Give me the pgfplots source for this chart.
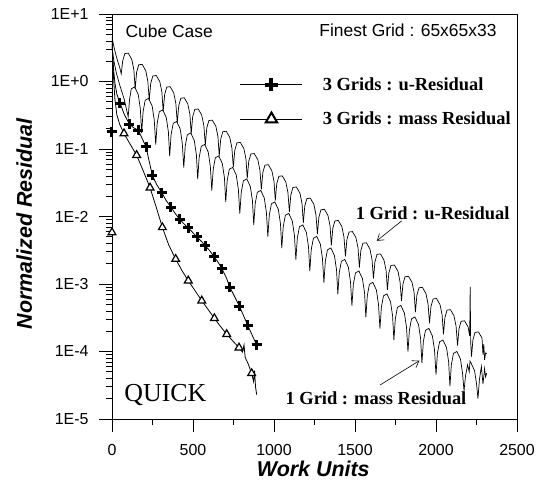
\documentclass[border=0pt]{standalone}
\usepackage{fontspec}
\setmainfont{Liberation Serif}
\setsansfont{Liberation Sans}
\usepackage{pgfplots}
\pgfplotsset{compat=1.18}
\usetikzlibrary{arrows.meta}
\pgfplotsset{
  crossleg/.style={legend image code/.code={
    \draw[black, line width=0.6bp] (0bp,0bp) -- (62bp,0bp);
    \draw[black, mark=+, mark size=6.5bp, mark options={black, line width=4bp}] plot coordinates {(31bp,0bp)};}},
  triley/.style={legend image code/.code={
    \draw[black, line width=0.6bp] (0bp,0bp) -- (62bp,0bp);
    \draw[black, mark=triangle*, mark size=6.5bp, mark options={draw=black, fill=white, line width=2bp}] plot coordinates {(31bp,0bp)};}},
}
\begin{document}
\begin{tikzpicture}
\useasboundingbox (-112bp,-64bp) rectangle (426bp,419bp);
\begin{axis}[
  at={(0,0)}, anchor=south west,
  scale only axis, width=405bp, height=405bp,
  xmin=0, xmax=2500, ymin=1e-5, ymax=10,
  ymode=log,
  xtick={0,500,1000,1500,2000,2500},
  xticklabels={0,500,1000,1500,2000,2500},
  minor xtick={250,750,1250,1750,2250},
  ytick={1e-5,1e-4,1e-3,1e-2,1e-1,1,10},
  yticklabels={1E-5,1E-4,1E-3,1E-2,1E-1,1E+0,1E+1},
  minor ytick={2e-5,3e-5,4e-5,5e-5,6e-5,7e-5,8e-5,9e-5,
    2e-4,3e-4,4e-4,5e-4,6e-4,7e-4,8e-4,9e-4,
    2e-3,3e-3,4e-3,5e-3,6e-3,7e-3,8e-3,9e-3,
    2e-2,3e-2,4e-2,5e-2,6e-2,7e-2,8e-2,9e-2,
    0.2,0.3,0.4,0.5,0.6,0.7,0.8,0.9,
    2,3,4,5,6,7,8,9},
  tick align=outside,
  xtick pos=bottom, ytick pos=left,
  major tick length=13bp, minor tick length=6bp,
  tick style={black, line width=0.7bp},
  axis line style={line width=0.9bp},
  ticklabel style={font=\sffamily\fontsize{16}{16}\selectfont},
  xticklabel style={anchor=north, yshift=-9bp},
  yticklabel style={anchor=east, xshift=-7bp},
  xlabel={Work Units}, ylabel={Normalized Residual},
  label style={font=\sffamily\bfseries\itshape\fontsize{21.5}{21.5}\selectfont},
  xlabel style={at={(axis description cs:0.497,-0.124)}, anchor=center},
  ylabel style={at={(axis description cs:-0.217,0.482)}, anchor=center},
  legend style={at={(axis description cs:0.316,0.783)}, anchor=west,
    draw=none, fill=none, inner sep=0pt, row sep=20bp, column sep=20bp,
    font=\bfseries\fontsize{18.5}{18.5}\selectfont,
    nodes={inner sep=0pt, anchor=west}},
  legend cell align=left,
]
% 1 Grid : u-Residual
\addplot[black, line width=0.7bp, forget plot] table {
x y
0 4.6
8 3.6
20 2.7
35 2.0
48 1.6
57 1.3
66 2.01
79 2.59
100 2.63
122 2.13
135 1.49
143 0.772
152 1.372
165 1.768
186 1.797
208 1.457
221 1.017
230 0.528
239 0.938
252 1.208
273 1.228
295 0.996
308 0.695
316 0.361
325 0.641
338 0.826
359 0.839
381 0.681
394 0.475
403 0.246
412 0.438
425 0.565
446 0.574
468 0.465
481 0.325
489 0.169
498 0.300
511 0.386
532 0.392
554 0.318
567 0.222
576 0.115
585 0.205
598 0.264
619 0.268
641 0.218
654 0.152
662 0.0787
671 0.1400
684 0.1804
705 0.1834
727 0.1487
740 0.1038
749 0.0538
758 0.0957
771 0.1233
792 0.1253
814 0.1016
827 0.0710
835 0.0368
844 0.0654
857 0.0843
878 0.0857
900 0.0695
913 0.0485
922 0.0252
931 0.0447
944 0.0576
965 0.0586
987 0.0475
1000 0.0332
1008 0.0172
1017 0.0306
1030 0.0394
1051 0.0400
1073 0.0325
1086 0.0227
1095 0.01175
1104 0.0209
1117 0.0269
1138 0.0274
1160 0.0222
1173 0.0155
1181 0.00804
1190 0.01429
1203 0.0184
1224 0.0187
1246 0.01517
1259 0.01059
1268 0.00549
1277 0.00977
1290 0.01258
1311 0.01279
1333 0.01037
1346 0.00724
1354 0.00375
1363 0.00668
1376 0.00860
1397 0.00874
1419 0.00709
1432 0.00495
1441 0.00257
1450 0.00456
1463 0.00588
1484 0.00598
1506 0.00485
1519 0.00338
1527 0.00175
1536 0.00312
1549 0.00402
1570 0.00408
1592 0.00331
1605 0.00231
1614 0.00120
1623 0.00213
1636 0.00275
1657 0.00279
1679 0.00226
1692 0.00158
1700 0.000820
1709 0.00146
1722 0.00188
1743 0.00191
1765 0.00155
1778 0.00108
1787 0.000561
1796 0.000997
1809 0.00128
1830 0.00130
1852 0.00106
1865 0.000739
1873 0.000383
1882 0.000681
1895 0.000878
1916 0.000892
1938 0.000723
1951 0.000505
1960 0.000262
1969 0.000466
1982 0.000600
2003 0.000610
2025 0.000494
2038 0.000345
2046 0.000179
2055 0.000318
2068 0.000410
2089 0.000417
2111 0.000338
2124 0.000236
2133 0.000122
2142 0.000218
2155 0.000280
2176 0.000285
2198 0.000231
2208 0.000170
2211 0.00091
2214 0.000140
2219 0.0000837
2228 0.000149
2241 0.000192
2262 0.000195
2284 0.000158
2290 0.000090
2295 0.000130
2300 0.000075
2306 0.000095
2313 0.000093
};
% 1 Grid : mass Residual
\addplot[black, line width=0.7bp, forget plot] table {
x y
0 3.2
12 2.0
28 1.3
50 0.85
75 0.55
100 0.30
108 0.531
119 0.780
140 0.832
162 0.641
175 0.394
183 0.172
192 0.359
205 0.527
226 0.562
248 0.433
261 0.266
270 0.116
279 0.242
292 0.356
313 0.380
335 0.293
348 0.180
356 0.0783
365 0.164
378 0.240
399 0.256
421 0.198
434 0.121
443 0.0529
452 0.1105
465 0.1624
486 0.1732
508 0.1335
521 0.0820
529 0.0357
538 0.0747
551 0.1097
572 0.1170
594 0.0902
607 0.0554
616 0.0241
625 0.0504
638 0.0741
659 0.0790
681 0.0609
694 0.0374
702 0.0163
711 0.0341
724 0.0501
745 0.0534
767 0.0412
780 0.0253
789 0.01102
798 0.0230
811 0.0338
832 0.0361
854 0.0278
867 0.0171
875 0.00744
884 0.01555
897 0.0228
918 0.0244
940 0.0188
953 0.01152
962 0.00502
971 0.01050
984 0.01542
1005 0.01645
1027 0.01268
1040 0.00778
1048 0.00340
1057 0.00709
1070 0.01042
1091 0.01111
1113 0.00857
1126 0.00526
1135 0.00229
1144 0.00479
1157 0.00704
1178 0.00751
1200 0.00579
1213 0.00355
1221 0.00155
1230 0.00324
1243 0.00475
1264 0.00507
1286 0.00391
1299 0.00240
1308 0.00105
1317 0.00219
1330 0.00321
1351 0.00342
1373 0.00264
1386 0.00162
1394 0.000707
1403 0.00148
1416 0.00217
1437 0.00231
1459 0.00178
1472 0.00109
1481 0.000477
1490 0.000997
1503 0.00146
1524 0.00156
1546 0.00120
1559 0.000739
1567 0.000322
1576 0.000674
1589 0.000989
1610 0.00106
1632 0.000814
1645 0.000499
1654 0.000218
1663 0.000455
1676 0.000668
1697 0.000713
1719 0.000550
1732 0.000337
1740 0.000147
1749 0.000307
1762 0.000451
1783 0.000482
1805 0.000371
1818 0.000228
1827 0.0000994
1836 0.000208
1849 0.000305
1870 0.000325
1892 0.000251
1905 0.000154
1913 0.0000671
1922 0.000140
1935 0.000206
1956 0.000220
1978 0.000169
1991 0.000104
2000 0.0000453
2009 0.0000947
2022 0.000139
2043 0.000148
2065 0.000114
2078 0.0000702
2086 0.0000306
2095 0.0000640
2108 0.0000940
2129 0.000100
2151 0.0000773
2164 0.0000474
2173 0.0000260
2182 0.0000432
2195 0.0000635
2205 0.0000500
2210 0.0000720
2216 0.0000677
2238 0.0000522
2251 0.0000320
2259 0.0000200
2268 0.0000380
2280 0.0000600
2290 0.0000330
2300 0.0000560
2306 0.0000420
2313 0.0000479
};
% 3 Grids : u-Residual (line)
\addplot[black, line width=0.8bp, forget plot] table {
x y
0 4.2
4 2.6
10 1.5
18 0.95
30 0.65
49 0.48
75 0.33
107 0.234
135 0.205
162 0.191
185 0.145
210 0.108
230 0.065
249 0.041
275 0.030
307 0.0225
335 0.0172
364 0.0138
390 0.0111
417 0.0091
444 0.0078
471 0.00676
498 0.0058
525 0.00497
551 0.0043
577 0.00366
604 0.0031
630 0.00254
655 0.0021
679 0.00167
705 0.00125
728 0.000894
757 0.00065
786 0.000472
812 0.00034
838 0.000244
865 0.000175
893 0.000125
};
% 3 Grids : mass Residual (line)
\addplot[black, line width=0.8bp, forget plot] table {
x y
0 4.0
4 2.3
10 1.1
18 0.55
30 0.32
48 0.23
74 0.17
110 0.12
152 0.081
192 0.048
235 0.0267
272 0.0140
311 0.0069
350 0.0038
393 0.00234
432 0.00158
471 0.00112
512 0.00080
554 0.000566
593 0.00042
632 0.00031
670 0.000235
708 0.00018
746 0.000143
784 0.000114
805 0.000098
815 0.000125
822 0.000082
840 0.000066
862 0.0000475
874 0.000036
880 0.000052
886 0.000030
893 0.0000230
};
% markers: 3 Grids u-Residual
\addplot[only marks, mark=+, mark size=5bp, mark options={black, line width=3bp}, crossleg] table {
x y
0 0.18
49 0.48
107 0.234
162 0.191
210 0.108
249 0.041
307 0.0225
364 0.0138
417 0.0091
471 0.00676
525 0.00497
577 0.00366
630 0.00254
679 0.00167
728 0.000894
786 0.000472
838 0.000244
893 0.000125
};
\addlegendentry{3 Grids : u-Residual}
% markers: 3 Grids mass Residual
\addplot[only marks, mark=triangle*, mark size=4.5bp, mark options={draw=black, fill=white, line width=1.2bp}, triley] table {
x y
0 0.0058
74 0.17
152 0.081
235 0.0267
311 0.0069
393 0.00234
471 0.00112
554 0.000566
632 0.00031
708 0.00018
784 0.000114
862 0.0000475
};
\addlegendentry{3 Grids : mass Residual}
% annotations
\node[anchor=west, font=\sffamily\fontsize{17.5}{17.5}\selectfont] at (axis description cs:0.025,0.958) {Cube Case};
\node[anchor=east, font=\sffamily\fontsize{17.5}{17.5}\selectfont] at (axis description cs:0.958,0.960) {Finest Grid : 65x65x33};
\node[anchor=west, font=\fontsize{26}{26}\selectfont] at (axis description cs:0.022,0.058) {QUICK};
\node[anchor=east, font=\bfseries\fontsize{18.5}{18.5}\selectfont] at (axis description cs:0.990,0.509) {1 Grid : u-Residual};
\draw[black, line width=0.6bp, -{Straight Barb[length=6bp,width=8bp]}] (axis description cs:0.715,0.489) -- (axis description cs:0.654,0.440);
\node[anchor=west, font=\bfseries\fontsize{18.5}{18.5}\selectfont] at (axis description cs:0.420,0.052) {1 Grid : mass Residual};
\draw[black, line width=0.6bp, -{Straight Barb[length=6bp,width=8bp]}] (axis description cs:0.662,0.084) -- (axis description cs:0.759,0.144);
\end{axis}
\end{tikzpicture}
\end{document}
